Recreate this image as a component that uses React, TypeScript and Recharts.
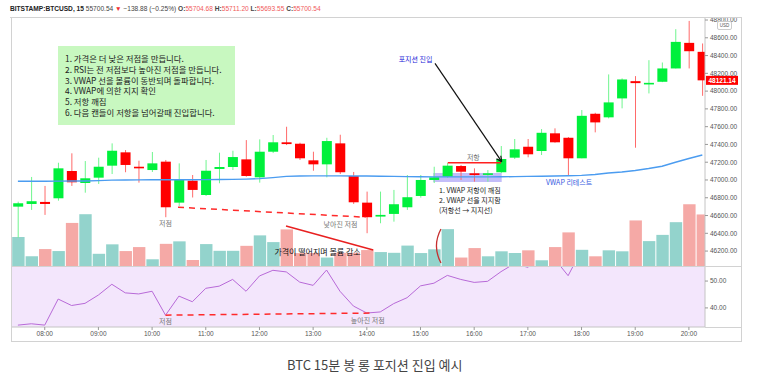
import { ComposedChart, Bar, Line, XAxis, YAxis, ReferenceLine, ReferenceArea, ReferenceDot, Cell } from 'recharts'

// 15-minute candles, 07:30 .. 20:15
const opens = [46700, 46730, 46753, 46794, 47101, 46966, 47026, 47161, 47311, 47149, 47112, 47206, 46745, 46992, 46831, 47124, 47146, 47232, 47030, 47318, 47424, 47408, 47221, 47176, 47412, 47045, 46745, 46588, 46618, 46693, 46820, 47000, 47037, 47157, 47075, 47064, 47087, 47251, 47374, 47326, 47525, 47475, 47244, 47745, 47705, 47918, 48112, 48082, 48105, 48255, 48543, 48442]
const highs = [46756, 47034, 46933, 47194, 47300, 47213, 47251, 47412, 47337, 47217, 47315, 47225, 47187, 47056, 47225, 47307, 47329, 47449, 47457, 47506, 47599, 47419, 47318, 47475, 47509, 47090, 46869, 46869, 46888, 47056, 47056, 47149, 47191, 47169, 47131, 47112, 47382, 47461, 47461, 47573, 47581, 47483, 47787, 47756, 48188, 48143, 48169, 48348, 48322, 48697, 48790, 48536]
const lows = [46350, 46663, 46607, 46767, 46933, 46857, 46955, 47067, 47087, 46970, 47090, 46581, 46708, 46803, 46820, 46963, 47112, 47037, 46970, 47303, 47393, 47225, 47104, 47030, 47067, 46730, 46401, 46513, 46531, 46663, 46801, 46966, 47022, 47000, 46981, 46981, 47079, 47236, 47255, 47281, 47419, 47048, 47244, 47536, 47693, 47806, 47363, 47974, 48101, 48255, 48255, 47947]
const closes = [46738, 46761, 46730, 47131, 46974, 47019, 47149, 47329, 47169, 47138, 47187, 46693, 47000, 46888, 47104, 47146, 47258, 47045, 47318, 47424, 47404, 47244, 47176, 47438, 47087, 46749, 46581, 46607, 46727, 46806, 47000, 47030, 47161, 47093, 47056, 47075, 47236, 47345, 47289, 47531, 47424, 47244, 47722, 47648, 47873, 48131, 48090, 48093, 48255, 48554, 48449, 48121.14]
const volumes = [116, 39, 68, 60, 173, 208, 49, 87, 60, 76, 27, 89, 99, 24, 88, 61, 61, 81, 123, 96, 147, 52, 52, 34, 53, 53, 64, 56, 53, 82, 52, 67, 148, 34, 72, 39, 59, 52, 63, 23, 76, 135, 65, 39, 63, 59, 183, 100, 125, 176, 248, 207]
const vwap = [46985, 46985, 46986, 46987, 46988, 46989, 46993, 46998, 47000, 47001, 47002, 47002, 47003, 47003, 47004, 47005, 47007, 47010, 47015, 47027, 47040, 47045, 47046, 47046, 47046, 47045, 47044, 47042, 47040, 47038, 47036, 47035, 47035, 47035, 47035, 47035, 47036, 47038, 47040, 47042, 47045, 47048, 47052, 47062, 47078, 47090, 47107, 47129, 47155, 47200, 47242, 47281]
const rsi = [33.6, 34.1, 33.6, 43.3, 40.9, 41.7, 44.8, 48.8, 45.6, 45.2, 46.2, 37.3, 44.4, 42.3, 47.3, 48.1, 50.6, 46.2, 51.9, 54.0, 53.4, 49.6, 48.4, 54.1, 46.2, 40.7, 38.1, 38.5, 41.6, 43.8, 48.2, 49.2, 52.1, 50.6, 49.5, 49.9, 53.5, 56.5, 55.1, 59.8, 58.2, 52.0, 61.5, 59.6, 63.2, 66.0, 61.8, 62.4, 64.7, 69.3, 65.1, 58.9]

const hourTicks = [2, 6, 10, 14, 18, 22, 26, 30, 34, 38, 42, 46, 50]
const hourLabels = ['08:00', '09:00', '10:00', '11:00', '12:00', '13:00', '14:00', '15:00', '16:00', '17:00', '18:00', '19:00', '20:00']
const priceTicks = [46200, 46400, 46600, 46800, 47000, 47200, 47400, 47600, 47800, 48000, 48200, 48400, 48600, 48800]
const rsiTicks = [40, 50]

const noteLines = [
  '1. 가격은 더 낮은 저점을 만듭니다.',
  '2. RSI는 전 저점보다 높아진 저점을 만듭니다.',
  '3. VWAP 선을 볼륨이 동반되며 돌파합니다.',
  '4. VWAP에 의한 지지 확인',
  '5. 저항 깨짐',
  '6. 다음 캔들이 저항을 넘어갈때 진입합니다.',
]
const vwapNote = ['1. VWAP 저항이 깨짐', '2. VWAP 선을 지지함', '(저항선 → 지지선)']

const data = opens.map((o, i) => ({
  i,
  open: o,
  high: highs[i],
  low: lows[i],
  close: closes[i],
  range: [lows[i], highs[i]],
  volume: volumes[i],
  vwap: vwap[i],
  rsi: rsi[i],
  up: closes[i] >= o,
}))

const X_DOMAIN: [number, number] = [-0.514, 51.2]
const FONT = '"Noto Sans CJK KR", "Noto Sans", sans-serif'
const AXIS_FONT = '"Liberation Sans", "DejaVu Sans", sans-serif'
const GREEN = '#00f03c'
const RED = '#ff0000'

const Candle = (props: any) => {
  const { x, y, width, height, payload } = props
  const { open, close, high, low } = payload
  const unit = height / (high - low || 1)
  const yo = y + (high - open) * unit
  const yc = y + (high - close) * unit
  const up = close >= open
  const cx = x + width / 2
  return (
    <g>
      <line x1={cx} x2={cx} y1={y} y2={y + height} stroke={up ? '#6ff58e' : '#ff6a6a'} strokeWidth={1} />
      <rect x={x} y={Math.min(yo, yc)} width={width} height={Math.max(1.6, Math.abs(yo - yc))} fill={up ? GREEN : RED} />
    </g>
  )
}

const Arrow = (p: any) => {
  const { x1, y1, x2, y2 } = p
  const a = Math.atan2(y2 - y1, x2 - x1)
  const L = 6
  return (
    <g>
      <line x1={x1} y1={y1} x2={x2} y2={y2} stroke="#111" strokeWidth={1.2} />
      <line x1={x2} y1={y2} x2={x2 - L * Math.cos(a - 0.45)} y2={y2 - L * Math.sin(a - 0.45)} stroke="#111" strokeWidth={1.2} />
      <line x1={x2} y1={y2} x2={x2 - L * Math.cos(a + 0.45)} y2={y2 - L * Math.sin(a + 0.45)} stroke="#111" strokeWidth={1.2} />
    </g>
  )
}

function note(key: string, x: number, y: number, text: string, color: string, size: number, axis = 'price') {
  return (
    <ReferenceDot
      key={key}
      xAxisId="x"
      yAxisId={axis}
      x={x}
      y={y}
      r={0}
      fill="none"
      stroke="none"
      ifOverflow="visible"
      label={{ value: text, position: 'center', fill: color, fontSize: size, fontFamily: FONT }}
    />
  )
}

const axisTick = { fontSize: 6.5, fill: '#555', fontFamily: AXIS_FONT }
const line = (s: any) => <div style={{ position: 'absolute', background: '#d2d2d2', ...s }} />

export default function App() {
  return (
    <div style={{ position: 'absolute', left: 0, top: 0, width: 763, height: 376, background: '#fff', fontFamily: FONT }}>
      {/* header */}
      <div style={{ position: 'absolute', left: 10, top: 5, fontSize: 6.6, fontFamily: AXIS_FONT, color: '#444', whiteSpace: 'nowrap' }}>
        <b style={{ color: '#222' }}>BITSTAMP:BTCUSD, 15</b> 55700.54 <span style={{ color: '#f03030' }}>▼</span> −138.88 (−0.25%){' '}
        <b>O:</b><span style={{ color: '#f05a5a' }}>55704.68</span> <b>H:</b><span style={{ color: '#f05a5a' }}>55711.20</span>{' '}
        <b>L:</b><span style={{ color: '#f05a5a' }}>55693.55</span> <b>C:</b><span style={{ color: '#f05a5a' }}>55700.54</span>
      </div>

      {/* price pane */}
      <div style={{ position: 'absolute', left: 0, top: 0 }}>
        <ComposedChart width={763} height={266} data={data} margin={{ top: 17, right: 22, bottom: 0, left: 11 }}>
          <XAxis xAxisId="x" dataKey="i" type="number" domain={X_DOMAIN} allowDataOverflow hide />
          <XAxis xAxisId="vx" dataKey="i" type="number" domain={X_DOMAIN} allowDataOverflow hide />
          <YAxis
            yAxisId="price"
            orientation="right"
            width={36}
            domain={[46032, 48834]}
            allowDataOverflow
            ticks={priceTicks}
            interval={0}
            tickFormatter={(v: number) => v.toFixed(2)}
            tick={axisTick}
            tickSize={3}
            tickMargin={2}
            axisLine={{ stroke: '#c4c4c4' }}
            tickLine={{ stroke: '#999' }}
          />
          <YAxis yAxisId="vol" domain={[0, 1000]} hide />

          <Bar xAxisId="vx" yAxisId="vol" dataKey="volume" barSize={12.4} isAnimationActive={false}>
            {data.map((d) => (
              <Cell key={d.i} fill={d.up ? '#93d3cc' : '#f5a9a6'} />
            ))}
          </Bar>
          <Line xAxisId="x" yAxisId="price" dataKey="vwap" stroke="#4b9cf0" strokeWidth={1.4} dot={false} isAnimationActive={false} />
          <Bar xAxisId="x" yAxisId="price" dataKey="range" barSize={10} shape={Candle} isAnimationActive={false} />

          <ReferenceArea xAxisId="x" yAxisId="price" x1={30.95} x2={36.05} y1={46978} y2={47079} fill="#7a6cf2" fillOpacity={0.45} stroke="none" />
          <ReferenceLine xAxisId="x" yAxisId="price" segment={[{ x: 11.93, y: closes[11] }, { x: 25.9, y: closes[26] }]} stroke="#ff2a2a" strokeWidth={1.5} strokeDasharray="6 5" />
          <ReferenceLine xAxisId="x" yAxisId="price" segment={[{ x: 19.98, y: 46482 }, { x: 26.48, y: 46212 }]} stroke="#e82020" strokeWidth={1.6} />
          <ReferenceLine xAxisId="x" yAxisId="price" segment={[{ x: 32.03, y: 47195 }, { x: 36.0, y: 47195 }]} stroke="#ff2020" strokeWidth={1.5} />
          <ReferenceLine xAxisId="x" yAxisId="price" segment={[{ x: 31.08, y: 48313 }, { x: 36.05, y: 47206 }]} shape={Arrow} />
          <ReferenceDot
            xAxisId="x"
            yAxisId="price"
            x={31.3}
            y={46257}
            r={0}
            ifOverflow="visible"
            shape={(p: any) => (
              <path d={`M${p.cx + 3},${p.cy - 17} Q${p.cx - 6},${p.cy} ${p.cx + 3},${p.cy + 17}`} fill="none" stroke="#c62f2f" strokeWidth={1.3} />
            )}
          />
          <ReferenceLine
            xAxisId="x"
            yAxisId="price"
            y={closes[51]}
            strokeOpacity={0}
            label={(p: any) => {
              const vb = p.viewBox
              const x = vb.x + vb.width
              return (
                <g>
                  <rect x={x + 1} y={vb.y - 4.5} width={32} height={9} fill={RED} />
                  <text x={x + 17} y={vb.y + 2.3} textAnchor="middle" fontSize={6.5} fontWeight="bold" fill="#fff" fontFamily={AXIS_FONT}>
                    {closes[51].toFixed(2)}
                  </text>
                </g>
              )
            }}
          />
          {note('n1', 29.63, 48361, '포지션 진입', '#2424d8', 7)}
          {note('n2', 33.94, 47255, '저항', '#777', 7)}
          {note('n3', 41.07, 46974, 'VWAP 리테스트', '#3558e0', 7)}
          {note('n4', 11, 46513, '저점', '#777', 7)}
          {note('n5', 24.04, 46494, '낮아진 저점', '#777', 7)}
          {note('n6', 22.33, 46193, '가격이 떨어지며 볼륨 감소', '#111', 8)}
        </ComposedChart>
      </div>

      {/* RSI pane */}
      <div style={{ position: 'absolute', left: 0, top: 266 }}>
        <ComposedChart width={763} height={76} data={data} margin={{ top: 0, right: 22, bottom: 0, left: 11 }}>
          <XAxis
            xAxisId="x"
            dataKey="i"
            type="number"
            domain={X_DOMAIN}
            allowDataOverflow
            ticks={hourTicks}
            interval={0}
            tickFormatter={(v: number) => hourLabels[hourTicks.indexOf(v)]}
            height={15}
            tick={axisTick}
            tickSize={3}
            tickMargin={1}
            axisLine={{ stroke: '#c4c4c4' }}
            tickLine={{ stroke: '#999' }}
          />
          <YAxis
            yAxisId="rsi"
            orientation="right"
            width={36}
            domain={[32.9, 55.6]}
            allowDataOverflow
            ticks={rsiTicks}
            interval={0}
            tickFormatter={(v: number) => v.toFixed(2)}
            tick={axisTick}
            tickSize={3}
            tickMargin={2}
            axisLine={{ stroke: '#c4c4c4' }}
            tickLine={{ stroke: '#999' }}
          />
          <ReferenceArea xAxisId="x" yAxisId="rsi" x1={X_DOMAIN[0]} x2={X_DOMAIN[1]} y1={32.9} y2={55.6} fill="#f3e6fc" fillOpacity={1} stroke="none" />
          <Line xAxisId="x" yAxisId="rsi" dataKey="rsi" stroke="#b86ad8" strokeWidth={1} dot={false} isAnimationActive={false} />
          <ReferenceLine xAxisId="x" yAxisId="rsi" segment={[{ x: 11, y: rsi[11] }, { x: 26.5, y: rsi[26] }]} stroke="#ff2a2a" strokeWidth={1.5} strokeDasharray="6 5" />
          {note('r1', 11, 35.1, '저점', '#777', 7, 'rsi')}
          {note('r2', 26.07, 35.4, '높아진 저점', '#777', 7, 'rsi')}
        </ComposedChart>
      </div>

      {/* frame */}
      {line({ left: 10, top: 17, width: 731, height: 1 })}
      {line({ left: 11, top: 17, width: 1, height: 325 })}
      {line({ left: 11, top: 341, width: 731, height: 1 })}
      {line({ left: 741, top: 17, width: 1, height: 325 })}
      {line({ left: 11, top: 266, width: 730, height: 1 })}
      {line({ left: 705, top: 327, width: 36, height: 1 })}

      {/* USD badge */}
      <div style={{ position: 'absolute', left: 717, top: 21, width: 13, height: 7, border: '1px solid #ccc', borderRadius: 2, background: '#fff', fontSize: 4.5, lineHeight: '7px', textAlign: 'center', color: '#555', fontFamily: AXIS_FONT }}>
        USD
      </div>

      {/* notes box */}
      <div style={{ position: 'absolute', left: 58, top: 46, width: 177, height: 79, background: '#c8f8c0', boxSizing: 'border-box', padding: '7px 0 0 7px', fontSize: 8.4, lineHeight: '10.8px', color: '#222', whiteSpace: 'nowrap' }}>
        {noteLines.map((t) => (
          <div key={t}>{t}</div>
        ))}
      </div>

      <div style={{ position: 'absolute', left: 439, top: 184.5, fontSize: 7, lineHeight: '10.2px', color: '#222', whiteSpace: 'nowrap' }}>
        {vwapNote.map((t) => (
          <div key={t}>{t}</div>
        ))}
      </div>

      {/* caption */}
      <div style={{ position: 'absolute', left: 287, top: 355, fontSize: 13, lineHeight: '19px', color: '#444', whiteSpace: 'nowrap' }}>
        BTC 15분 봉 롱 포지션 진입 예시
      </div>
    </div>
  )
}
